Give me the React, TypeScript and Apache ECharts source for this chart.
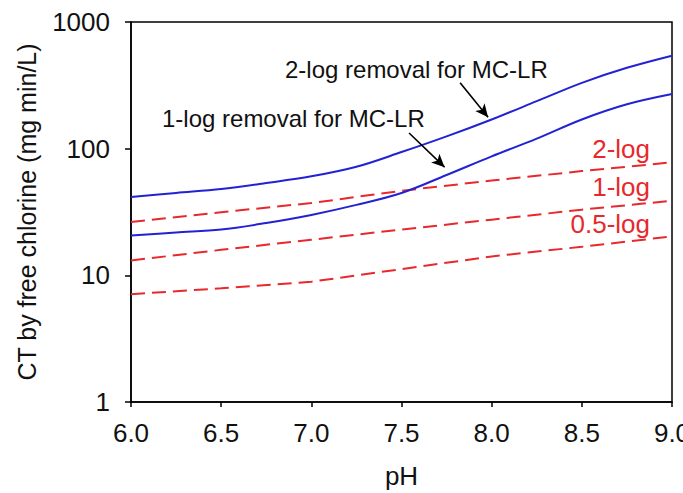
import React, { useEffect, useRef } from "react";
import * as echarts from "echarts";

const phBlue = [6.0, 6.25, 6.5, 6.75, 7.0, 7.25, 7.5, 7.75, 8.0, 8.25, 8.5, 8.75, 9.0];
const mclr2log = [41.5, 44.7, 48, 53.5, 60.5, 72, 94, 125, 170, 237, 331, 435, 542];
const mclr1log = [20.6, 21.8, 23, 25.9, 30, 36, 44.7, 62, 87, 120, 170, 224, 270];

const phRed = [6.0, 6.5, 7.0, 7.5, 8.0, 8.5, 9.0];
const giardia2log = [26.4, 31.5, 37.2, 46.5, 56, 66.5, 78];
const giardia1log = [13.1, 15.9, 19.1, 23, 27.5, 33, 38.8];
const giardia05log = [7.1, 7.9, 8.9, 11.2, 14.1, 16.8, 20.3];

const xTicks = [6.0, 6.5, 7.0, 7.5, 8.0, 8.5, 9.0];
const yTicks = [1, 10, 100, 1000];

const arrowUpper = [[7.825, 332], [7.98, 177]];
const arrowLower = [[7.542, 133], [7.739, 71.4]];

const FONT = "'Liberation Sans', Arial, sans-serif";
const BLUE = "#2222d4";
const RED = "#e8282c";

const zip = (xs: number[], ys: number[]) => xs.map((x, i) => [x, ys[i]]);

export default function App() {
  const ref = useRef<HTMLDivElement>(null);
  useEffect(() => {
    if (!ref.current) return;
    const chart = echarts.init(ref.current, undefined, { renderer: "svg" });
    const redLine = (name: string, ys: number[]) => ({
      name,
      type: "line",
      data: zip(phRed, ys),
      showSymbol: false,
      symbol: "none",
      smooth: false,
      lineStyle: { color: RED, width: 2, type: [14, 7] },
      z: 2,
    });
    const arrowMark = (pts: number[][]) => ({
      silent: true,
      symbol: ["none", "arrow"],
      symbolSize: [9, 13],
      label: { show: false },
      lineStyle: { color: "#000", width: 1.6, type: "solid" },
      data: [[{ coord: pts[0] }, { coord: pts[1] }]],
    });
    const blueLine = (name: string, ys: number[], arrow: number[][]) => ({
      name,
      type: "line",
      data: zip(phBlue, ys),
      showSymbol: false,
      symbol: "none",
      smooth: 0.35,
      lineStyle: { color: BLUE, width: 2 },
      markLine: arrowMark(arrow),
      z: 3,
    });
    chart.setOption({
      animation: false,
      backgroundColor: "#fff",
      textStyle: { fontFamily: FONT },
      grid: {
        left: 131,
        right: 11,
        top: 22,
        bottom: 91,
        containLabel: false,
        outerBoundsMode: "none",
        show: true,
        borderColor: "#000",
        borderWidth: 1.5,
        backgroundColor: "transparent",
      },
      xAxis: {
        type: "value",
        min: 6,
        max: 9,
        interval: 0.5,
        name: "pH",
        nameLocation: "middle",
        nameGap: 61,
        nameTextStyle: { fontSize: 26, color: "#111", fontFamily: FONT },
        axisLine: { show: true, lineStyle: { color: "#000", width: 1.5 } },
        axisTick: { show: true, inside: false, length: 5, lineStyle: { color: "#000", width: 1.5 } },
        axisLabel: {
          fontSize: 26,
          color: "#111",
          margin: 18,
          fontFamily: FONT,
          formatter: (v: number) => (xTicks.includes(v) ? v.toFixed(1) : ""),
          showMaxLabel: true,
          hideOverlap: false,
        },
        splitLine: { show: false },
      },
      yAxis: {
        type: "log",
        logBase: 10,
        min: yTicks[0],
        max: yTicks[yTicks.length - 1],
        name: "CT by free chlorine (mg min/L)",
        nameLocation: "middle",
        nameGap: 92,
        nameRotate: 90,
        nameTextStyle: { fontSize: 25, color: "#111", fontFamily: FONT },
        axisLine: { show: true, lineStyle: { color: "#000", width: 1.5 } },
        axisTick: { show: true, inside: false, length: 6, lineStyle: { color: "#000", width: 1.5 } },
        axisLabel: {
          fontSize: 26,
          color: "#111",
          margin: 21,
          fontFamily: FONT,
          formatter: (v: number) => String(Math.round(v)),
        },
        splitLine: { show: false },
        minorTick: { show: false },
      },
      series: [
        blueLine("2-log removal for MC-LR", mclr2log, arrowUpper),
        blueLine("1-log removal for MC-LR", mclr1log, arrowLower),
        redLine("2-log", giardia2log),
        redLine("1-log", giardia1log),
        redLine("0.5-log", giardia05log),
      ],
      graphic: [
        {
          type: "text",
          left: 285,
          top: 57,
          style: { text: "2-log removal for MC-LR", font: `24px ${FONT}`, fill: "#111" },
        },
        {
          type: "text",
          left: 162,
          top: 106,
          style: { text: "1-log removal for MC-LR", font: `24px ${FONT}`, fill: "#111" },
        },
        {
          type: "text",
          right: 33,
          top: 136,
          style: { text: "2-log", font: `26px ${FONT}`, fill: RED },
        },
        {
          type: "text",
          right: 33,
          top: 174,
          style: { text: "1-log", font: `26px ${FONT}`, fill: RED },
        },
        {
          type: "text",
          right: 33,
          top: 211,
          style: { text: "0.5-log", font: `26px ${FONT}`, fill: RED },
        },
      ],
    });
    return () => chart.dispose();
  }, []);
  return (
    <div
      ref={ref}
      style={{ position: "fixed", left: 0, top: 0, width: 683, height: 493, background: "#fff" }}
    />
  );
}
